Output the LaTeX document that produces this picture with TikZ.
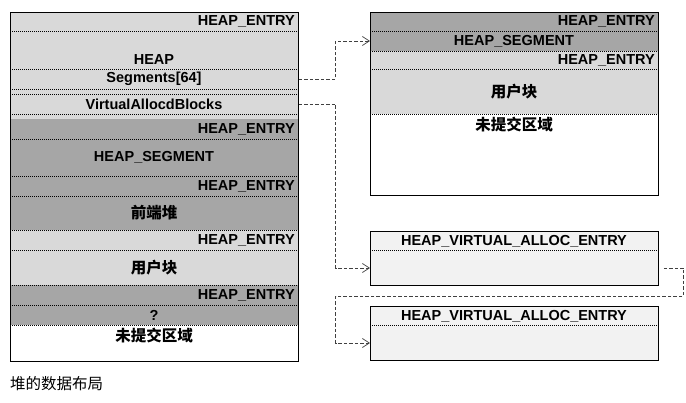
\documentclass[tikz,border=0pt]{standalone}
\usepackage{fontspec}
\setmainfont{Liberation Sans}
\newfontfamily\cjk{Noto Sans CJK SC}
\usetikzlibrary{arrows.meta}

\definecolor{lightrow}{HTML}{D9D9D9}
\definecolor{darkrow}{HTML}{A6A6A6}
\definecolor{paleentry}{HTML}{F2F2F2}

\tikzset{
    sep/.style={dash pattern=on 1pt off 1pt, line width=0.6pt},
    frame/.style={draw=black, line width=0.8pt, inner sep=0pt, anchor=north west},
    lbl/.style={font=\fontsize{14.5}{15}\selectfont\bfseries, inner sep=0pt},
    zh/.style={font=\fontsize{15.5}{16}\selectfont\cjk\bfseries, inner sep=0pt},
    link/.style={draw=black!75, dash pattern=on 3.5pt off 2pt, line width=0.7pt},
    tip/.style={-{Straight Barb[length=7pt,width=9pt,line width=0.7pt]}},
}

\begin{document}
\begin{tikzpicture}[x=1pt,y=-1pt]
    \useasboundingbox (0,0) rectangle (686,403);

    % left box: heap layout
    \fill[lightrow] (10,12) rectangle (298,119);
    \fill[darkrow] (10,119) rectangle (298,230);
    \fill[lightrow] (10,230) rectangle (298,285);
    \fill[darkrow] (10,285) rectangle (298,325);
    \foreach \y in {31,69,89,94,114,139,176,196,230,250,285,305,325}{
        \draw[sep] (10,\y) -- (298,\y);
    }
    \node[frame, minimum width=288pt, minimum height=349pt] (heap) at (10,12) {};

    \node[lbl, anchor=east] (entry1) at (295,21.5) {HEAP\_ENTRY};
    \node[lbl] (heaplbl) at (154,60) {HEAP};
    \node[lbl] (seg) at (154,79) {Segments[64]};
    \node[lbl] (vab) at (154,104) {VirtualAllocdBlocks};
    \node[lbl, anchor=east] (entry2) at (295,129) {HEAP\_ENTRY};
    \node[lbl] (hseg) at (154,157.5) {HEAP\_SEGMENT};
    \node[lbl, anchor=east] (entry3) at (295,186) {HEAP\_ENTRY};
    \node[zh] (front) at (154,213) {前端堆};
    \node[lbl, anchor=east] (entry4) at (295,240) {HEAP\_ENTRY};
    \node[zh] (user1) at (154,268) {用户块};
    \node[lbl, anchor=east] (entry5) at (295,295) {HEAP\_ENTRY};
    \node[lbl] (unknown) at (154,315) {?};
    \node[zh] (uncommit1) at (154,336) {未提交区域};

    % right box: segment
    \fill[darkrow] (370,12) rectangle (658,51);
    \fill[lightrow] (370,51) rectangle (658,114);
    \foreach \y in {31,51,69,114}{
        \draw[sep] (370,\y) -- (658,\y);
    }
    \node[frame, minimum width=288pt, minimum height=183pt] (segbox) at (370,12) {};

    \node[lbl, anchor=east] (sentry1) at (655,21.5) {HEAP\_ENTRY};
    \node[lbl] (shseg) at (514,41) {HEAP\_SEGMENT};
    \node[lbl, anchor=east] (sentry2) at (655,60) {HEAP\_ENTRY};
    \node[zh] (user2) at (514,92) {用户块};
    \node[zh] (uncommit2) at (514,125) {未提交区域};

    % virtual alloc entries
    \foreach \name/\top in {vae1/231, vae2/306}{
        \fill[paleentry] (370,\top) rectangle (658,\top+54);
        \draw[sep] (370,\top+19) -- (658,\top+19);
        \node[frame, minimum width=288pt, minimum height=54pt] (\name) at (370,\top) {};
        \node[lbl] (\name-title) at (514,\top+10) {HEAP\_VIRTUAL\_ALLOC\_ENTRY};
        \coordinate (\name-body) at (514,\top+37);
    }

    % links
    \draw[link, tip] (seg -| heap.east) -- ++(37,0) |- (shseg -| segbox.west);
    \draw[link, tip] (vab -| heap.east) -- ++(37,0) |- (vae1-body -| vae1.west);
    \draw[link, tip] ([xshift=5pt]vae1-body -| vae1.east) -| ++(20,28) -- ++(-348,0) |- (vae2-body -| vae2.west);

    \node[font=\fontsize{15.5}{16}\selectfont\cjk, inner sep=0pt, anchor=west] (caption) at (10,384) {堆的数据布局};
\end{tikzpicture}
\end{document}
